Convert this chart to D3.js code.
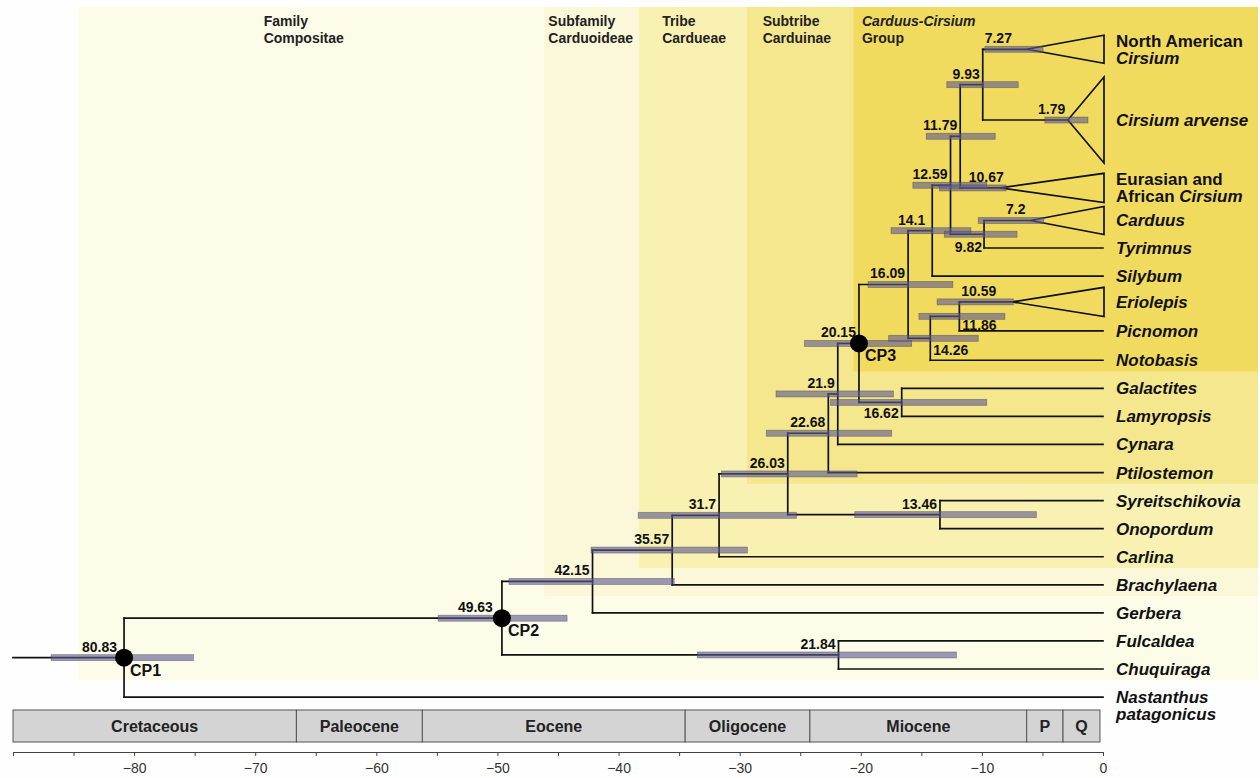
<!DOCTYPE html>
<html>
<head>
<meta charset="utf-8">
<script src="https://cdn.jsdelivr.net/npm/d3@7/dist/d3.min.js"></script>
<style>
  body { margin: 0; background: #fefefe; }
  svg { font-family: "Liberation Sans", Arial, sans-serif; }
</style>
</head>
<body>
<svg id="chart" width="1260" height="778"></svg>
<script>
// ---------- data ----------
// tips, top to bottom
const tipIds = ["NAm", "Carv", "EAf", "Card", "Tyrimnus", "Silybum", "Erio", "Picnomon", "Notobasis",
  "Galactites", "Lamyropsis", "Cynara", "Ptilostemon", "Syreitschikovia", "Onopordum", "Carlina",
  "Brachylaena", "Gerbera", "Fulcaldea", "Chuquiraga", "Nastanthus"];
// label lines, each a list of [text, italic]
const tipLabels = [
  [[["North American", 0]], [["Cirsium", 1]]],
  "Cirsium arvense",
  [[["Eurasian and", 0]], [["African ", 0], ["Cirsium", 1]]],
  "Carduus", "Tyrimnus", "Silybum", "Eriolepis", "Picnomon", "Notobasis", "Galactites", "Lamyropsis",
  "Cynara", "Ptilostemon", "Syreitschikovia", "Onopordum", "Carlina", "Brachylaena", "Gerbera",
  "Fulcaldea", "Chuquiraga",
  [[["Nastanthus", 1]], [["patagonicus", 1]]]
];

// collapsed clades: node age, HPD (old, young), crown age where the triangle starts
const cladeIds = ["NAm", "Carv", "EAf", "Card", "Erio"];
const cladeAge = [7.27, 1.79, 10.67, 7.2, 10.59];
const cladeHpd = [[9.75, 4.95], [4.8, 1.24], [13.5, 8.0], [10.3, 4.9], [13.7, 7.4]];
const cladeCrown = [6.3, 2.9, 8.5, 6.0, 7.5];

// internal nodes: id, age, HPD old, HPD young, children
const nodes = [
  ["CP1", 80.83, 86.85, 75.1, "CP2", "Nastanthus"],
  ["CP2", 49.63, 54.9, 44.25, "n4215", "n2184"],
  ["n4215", 42.15, 49.05, 35.4, "n3557", "Gerbera"],
  ["n3557", 35.57, 42.27, 29.36, "n317", "Brachylaena"],
  ["n317", 31.7, 38.38, 25.3, "n2603", "Carlina"],
  ["n2603", 26.03, 31.5, 20.3, "n2268", "n1346"],
  ["n1346", 13.46, 20.5, 5.5, "Syreitschikovia", "Onopordum"],
  ["n2268", 22.68, 27.8, 17.45, "n219", "Ptilostemon"],
  ["n219", 21.9, 27.0, 17.3, "CP3", "Cynara"],
  ["CP3", 20.15, 24.65, 15.8, "n1609", "n1662"],
  ["n1662", 16.62, 22.5, 9.6, "Galactites", "Lamyropsis"],
  ["n1609", 16.09, 19.4, 12.4, "n141", "n1426"],
  ["n1426", 14.26, 17.7, 10.3, "n1186", "Notobasis"],
  ["n1186", 11.86, 15.2, 8.1, "Erio", "Picnomon"],
  ["n141", 14.1, 17.5, 10.9, "n1259", "Silybum"],
  ["n1259", 12.59, 15.7, 9.6, "n1179", "n982"],
  ["n982", 9.82, 13.1, 7.1, "Card", "Tyrimnus"],
  ["n1179", 11.79, 14.6, 8.9, "n993", "EAf"],
  ["n993", 9.93, 12.9, 7.0, "NAm", "Carv"],
  ["n2184", 21.84, 33.5, 12.1, "Fulcaldea", "Chuquiraga"]
];
const rootStart = 90;

// taxonomic shading: names, age where it starts, last tip inside
const groupNames = [["Family", "Compositae"], ["Subfamily", "Carduoideae"], ["Tribe", "Cardueae"],
  ["Subtribe", "Carduinae"], ["Carduus-Cirsium", "Group"]];
const groupStart = [84.6, 46.15, 38.3, 29.4, 20.6];
const groupLastTip = ["Chuquiraga", "Brachylaena", "Carlina", "Ptilostemon", "Notobasis"];
const groupLabelAge = [69.3, 45.8, 36.4, 28.1, 19.9];

// geological time scale
const periods = ["Cretaceous", "Paleocene", "Eocene", "Oligocene", "Miocene", "P", "Q"];
const periodBounds = [-90, -66.6, -56.2, -34.5, -24.2, -6.3, -3.3, -0.25];

// ---------- layout ----------
const tipRow = [-0.08, 2.44, 4.86, 6.02, 7, 8, 8.92, 9.95, 11, 12, 13, 14, 15, 16, 17, 18, 19, 20, 21, 22, 23];
const triHalf = { NAm: 0.5, Carv: 1.53, EAf: 0.52, Card: 0.5, Erio: 0.52 };
const groupColors = ["#fdfce8", "#fbf8da", "#f8f1b1", "#f5e78d", "#f1db5f"];
const labelPlace = {
  CP1: { dx: -7 }, CP2: { dx: -9 }, n141: { dx: -7 },
  Carv: { dx: -16 },
  Card: { anchor: "middle", dx: 0 },
  Erio: { anchor: "middle", dx: 4 },
  EAf: { anchor: "start", dx: -5 },
  n982: { dx: -2, dy: 18 },
  n1186: { anchor: "start", dx: 3, dy: 14 },
  n1426: { anchor: "start", dx: 3, dy: 17 },
  n1662: { dx: -3, dy: 16 }
};

const svg = d3.select("#chart");
const x = d3.scaleLinear().domain([-90, 0]).range([13, 1103]);
const y = d3.scaleLinear().domain([7, 22]).range([248, 669]);
const rightX = 1258, topY = 7;

// build node table
const info = {};
tipIds.forEach((id, i) => info[id] = { id, kind: "tip", row: tipRow[i], label: tipLabels[i] });
cladeIds.forEach((id, i) => Object.assign(info[id], {
  kind: "clade", age: cladeAge[i], hpd: cladeHpd[i], crown: cladeCrown[i]
}));
nodes.forEach(([id, age, o, yg, a, b]) => info[id] = { id, kind: "node", age, hpd: [o, yg], kids: [a, b] });

function place(id) {
  const n = info[id];
  if (n.kind === "node") {
    n.kids.forEach(place);
    n.y = d3.mean(n.kids, k => info[k].y);
    n.x = x(-n.age);
    n.end = n.x;
  } else {
    n.y = y(n.row);
    if (n.kind === "clade") { n.x = x(-n.age); n.end = x(-n.crown); }
    else { n.x = x(0); n.end = x(0); }
  }
}
place("CP1");

// ---------- shading ----------
const groups = groupNames.map((g, i) => ({
  lines: g, start: groupStart[i], bottom: y(info[groupLastTip[i]].row + 0.4), lab: groupLabelAge[i], color: groupColors[i]
}));
svg.selectAll("rect.grp").data(groups).join("rect").attr("class", "grp")
  .attr("x", d => x(-d.start)).attr("y", topY)
  .attr("width", d => rightX - x(-d.start)).attr("height", d => d.bottom - topY)
  .attr("fill", d => d.color);

const gl = svg.selectAll("text.grp").data(groups).join("text").attr("class", "grp")
  .attr("font-size", 14).attr("font-weight", "bold").attr("fill", "#222");
gl.selectAll("tspan").data((d, i) => d.lines.map((t, j) => ({ t, j, d, i }))).join("tspan")
  .attr("x", e => x(-e.d.lab)).attr("y", e => 26 + e.j * 17)
  .attr("font-style", e => (e.i === 4 && e.j === 0) ? "italic" : "normal")
  .text(e => e.t);

// ---------- geological bar ----------
const per = periods.map((p, i) => ({ p, a: periodBounds[i], b: periodBounds[i + 1] }));
svg.selectAll("rect.per").data(per).join("rect").attr("class", "per")
  .attr("x", d => x(d.a)).attr("y", 710).attr("width", d => x(d.b) - x(d.a)).attr("height", 32)
  .attr("fill", "#d4d4d4").attr("stroke", "#555").attr("stroke-width", 1);
svg.selectAll("text.per").data(per).join("text").attr("class", "per")
  .attr("x", d => (x(d.a) + x(d.b)) / 2).attr("y", 732)
  .attr("text-anchor", "middle").attr("font-size", 16).attr("font-weight", "bold").attr("fill", "#222")
  .text(d => d.p);

// ---------- axis ----------
const fmt = d3.format("d");
const ax = svg.append("g").attr("transform", "translate(0,752)")
  .call(d3.axisBottom(x).tickValues(d3.range(-90, 1, 5)).tickSize(4).tickSizeOuter(0).tickPadding(7)
    .tickFormat(d => (d % 10 === 0 && d > -90) ? fmt(d) : ""));
ax.select(".domain").attr("stroke", "#444").attr("stroke-width", 1.2);
ax.selectAll(".tick line").attr("stroke", "#444");
ax.selectAll(".tick text").attr("font-size", 14).attr("fill", "#333")
  .attr("font-family", "'Liberation Sans', Arial, sans-serif");

// ---------- tree ----------
const segs = [{ x1: x(-rootStart), y1: info.CP1.y, x2: info.CP1.x, y2: info.CP1.y }];
nodes.forEach(([id]) => {
  const n = info[id];
  const [a, b] = n.kids.map(k => info[k]);
  segs.push({ x1: n.x, y1: a.y, x2: n.x, y2: b.y });
  segs.push({ x1: n.x, y1: a.y, x2: a.end, y2: a.y });
  segs.push({ x1: n.x, y1: b.y, x2: b.end, y2: b.y });
});
svg.selectAll("line.br").data(segs).join("line").attr("class", "br")
  .attr("x1", d => d.x1).attr("y1", d => d.y1).attr("x2", d => d.x2).attr("y2", d => d.y2)
  .attr("stroke", "#111").attr("stroke-width", 1.7).attr("stroke-linecap", "square");

const clades = cladeIds.map(id => info[id]);
svg.selectAll("path.tri").data(clades).join("path").attr("class", "tri")
  .attr("d", d => {
    const h = triHalf[d.id] * (y(1) - y(0));
    return `M${d.end},${d.y}L${x(0) + 1},${d.y - h}L${x(0) + 1},${d.y + h}Z`;
  })
  .attr("fill", "none").attr("stroke", "#111").attr("stroke-width", 1.7).attr("stroke-linejoin", "miter");

// HPD bars
const dated = nodes.map(n => info[n[0]]).concat(clades);
svg.selectAll("rect.hpd").data(dated).join("rect").attr("class", "hpd")
  .attr("x", d => x(-d.hpd[0])).attr("width", d => x(-d.hpd[1]) - x(-d.hpd[0]))
  .attr("y", d => d.y - 3).attr("height", 6)
  .attr("fill", "#5e5a92").attr("fill-opacity", 0.62)
  .attr("stroke", "#3a3a4a").attr("stroke-opacity", 0.45).attr("stroke-width", 0.8);

// calibration points
const cps = ["CP1", "CP2", "CP3"].map(id => info[id]);
svg.selectAll("circle.cp").data(cps).join("circle").attr("class", "cp")
  .attr("cx", d => d.x).attr("cy", d => d.y).attr("r", 9).attr("fill", "#000");
svg.selectAll("text.cp").data(cps).join("text").attr("class", "cp")
  .attr("x", d => d.x + 6).attr("y", d => d.y + 18)
  .attr("font-size", 16).attr("font-weight", "bold").attr("fill", "#111").text(d => d.id);

// node ages
svg.selectAll("text.age").data(dated).join("text").attr("class", "age")
  .attr("x", d => d.x + ((labelPlace[d.id] || {}).dx ?? -3))
  .attr("y", d => d.y + ((labelPlace[d.id] || {}).dy ?? -6))
  .attr("text-anchor", d => (labelPlace[d.id] || {}).anchor || "end")
  .attr("font-size", 14).attr("font-weight", "bold").attr("fill", "#111")
  .text(d => String(d.age));

// tip labels
const tipsData = tipIds.map(id => info[id]);
const tl = svg.selectAll("text.tip").data(tipsData).join("text").attr("class", "tip")
  .attr("font-size", 17).attr("font-weight", "bold").attr("fill", "#111");
tl.each(function (d) {
  const lines = typeof d.label === "string" ? [[[d.label, 1]]] : d.label;
  const lh = 17;
  const y0 = d.kind === "clade" ? d.y - (lines.length - 1) * lh / 2 : d.y;
  lines.forEach((line, j) => {
    line.forEach(([t, it], k) => {
      const ts = d3.select(this).append("tspan").attr("font-style", it ? "italic" : "normal").text(t);
      if (k === 0) ts.attr("x", x(0) + 13).attr("y", y0 + j * lh + 6);
    });
  });
});
</script>
</body>
</html>
